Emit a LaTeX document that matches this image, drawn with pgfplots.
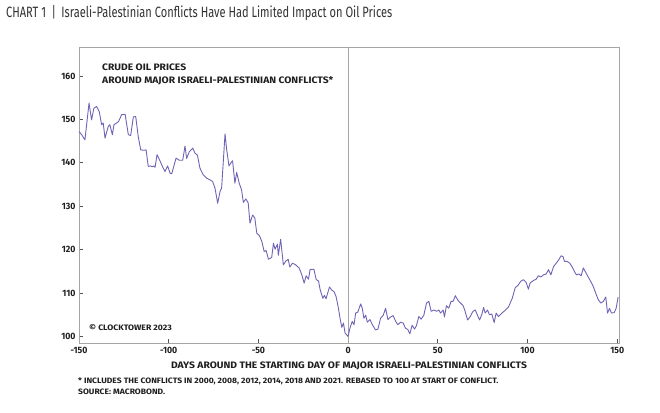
\documentclass[border=0pt]{standalone}
\usepackage{fontspec}
\setmainfont{Fira Sans}
\newfontfamily\titlefont[FakeStretch=0.74]{Fira Sans}
\newfontfamily\tickfont[FakeStretch=0.95]{Fira Sans}
\newfontfamily\bodyfont[FakeStretch=1.1]{Fira Sans}
\usepackage{pgfplots}
\pgfplotsset{compat=1.18}
\definecolor{oil}{RGB}{110,100,180}
\definecolor{framegray}{RGB}{165,165,165}
\definecolor{txt}{RGB}{30,30,30}
\definecolor{titlecol}{RGB}{50,50,50}

\pgfplotstableread{
d v
-150 147.2
-148.5 146.5
-146.7 145.3
-144.4 153.8
-143 149.9
-141.7 152.6
-140.2 153.0
-138.7 151.8
-137.4 148.8
-136.5 149.2
-135.5 145.7
-133.7 148.4
-132.8 148.8
-131.4 146.5
-130.5 148.8
-128 149.5
-126.2 151.1
-124.3 151.2
-122.5 146.5
-121.2 146.3
-119.7 150.6
-118.4 150.7
-117 146.1
-115.6 143.0
-113.7 142.9
-112.6 143.0
-111.4 139.2
-110.1 139.3
-109.2 139.1
-108.3 139.3
-107.6 139.0
-106.5 141.9
-105 140.6
-103.5 139.2
-102.1 138.0
-100.6 139.3
-99.2 137.6
-98.3 137.5
-95.9 141.1
-94.1 140.6
-92.2 140.6
-90.9 143.9
-90 141.0
-88.5 142.6
-86.6 143.4
-85.3 142.2
-84 141.8
-82.6 138.8
-80.8 137.3
-78.9 136.5
-77 136.1
-75.5 135.7
-74.2 134.2
-72.7 130.7
-71.4 133.4
-70.5 134.2
-68.6 146.7
-67.7 143.1
-66.4 139.3
-65.3 140.0
-64.4 140.5
-63.1 135.3
-62.1 137.8
-60.7 135.3
-59.4 133.8
-58.4 130.9
-57 131.7
-55.7 130.8
-54.7 126.1
-53.2 128.0
-52 127.3
-50.9 123.8
-49.4 123.2
-48.1 121.9
-46.8 119.6
-45.7 119.8
-44.4 117.8
-42.6 118.2
-41.6 121.5
-40.7 120.1
-39.4 121.3
-38.9 118.7
-37.6 122.4
-36.1 116.5
-34.7 117.4
-33.4 117.8
-32.5 116.0
-31 116.9
-29.2 116.5
-27.3 115.8
-25.8 114.2
-24.5 112.3
-23.4 114.0
-22.1 113.2
-21.2 115.4
-19.7 115.5
-19 115.4
-17.8 113.1
-16.5 112.8
-15.6 110.8
-14.1 108.8
-13.2 109.5
-12.3 108.7
-10.4 111.4
-9.1 110.7
-7.8 110.3
-6.7 109.2
-5.4 106.5
-4.5 104.2
-3.5 102.1
-2.6 103.1
-1.7 100.8
-0.4 100.2
0 100
1 101.9
2.3 103.5
3.3 102.7
4.2 105.4
5.4 105.6
7 107.5
7.9 106.5
8.8 104.2
9.8 104.9
10.7 103.3
12.2 103.9
13.4 102.8
15.3 101.5
16.6 101.7
18.1 104.2
19.6 104.9
20.9 106.5
22.2 103.9
23.7 104.5
25.1 104.8
26.4 103.6
27.7 102.7
29.2 103.3
30.7 103.1
32 101.9
33.3 101.6
34.4 100.6
35.7 102.6
37 101.7
38.1 102.5
39.4 104.6
40.7 104.0
42.2 104.9
43.7 107.7
45 108.1
46.3 105.8
47.8 106.1
49.3 105.8
50.6 106.1
51.5 105.4
53 106.1
53.7 104.5
54.8 107.1
56.1 106.5
57.4 108.1
58.5 108.1
59.8 109.4
61.1 108.4
62.6 107.7
64.1 107.1
65 106.1
66.6 103.8
68.1 104.6
69.6 105.8
70.9 106.1
72.2 104.8
73.3 103.8
74.6 105.2
75.5 106.7
76.4 105.4
77.7 106.1
78.8 105.0
80.1 105.2
81.4 103.2
82.5 105.4
83.8 104.6
85.7 105.4
87.5 106.0
89.4 106.8
91.5 108.8
93.1 111.2
94.9 111.9
96.2 112.7
97.7 113.1
99.2 112.5
100.5 110.9
101.4 112.3
103.3 112.9
104.8 113.2
106.1 114.0
107.4 113.7
108.9 114.2
110.4 114.4
111.7 115.4
113 114.2
114.5 116.1
116 116.9
117.3 117.6
118.7 118.6
119.8 118.4
120.6 117.3
122.1 117.3
123.5 116.9
124.8 116.1
126.1 115.0
127.3 114.2
128.6 114.4
129.9 114.0
131.1 115.8
132.4 114.8
133.7 113.8
135.2 112.7
136.7 111.5
138 110.0
139.3 108.6
140.8 107.7
142.3 108.1
143.6 109.1
144.6 105.4
145.7 106.5
146.8 105.4
148.3 105.5
149.4 106.5
150.5 109.1
}\oildata

\begin{document}
\begin{tikzpicture}[x=1bp,y=1bp]
\path[use as bounding box] (0,0) rectangle (660,412);
\node[anchor=west, inner sep=0, text=titlecol] at (6,399) {\titlefont\fontsize{15}{18}\selectfont CHART 1 \,|\, Israeli-Palestinian Conflicts Have Had Limited Impact on Oil Prices};
\begin{axis}[
  at={(79bp,69bp)}, anchor=south west,
  scale only axis, width=540bp, height=296bp,
  xmin=-150, xmax=151, ymin=98.5, ymax=166.7,
  axis line style={draw=framegray, line width=0.8bp},
  xtick={-150,-100,...,150}, ytick={100,110,...,160},
  tick align=inside, major tick length=4bp,
  tick style={draw=txt!75, line width=0.8bp},
  xtick pos=bottom, ytick pos=left,
  /pgf/number format/assume math mode=true,
  ticklabel style={font=\tickfont\bfseries\fontsize{9.2}{10}\selectfont, text=txt},
  x tick label style={yshift=-1bp},
  clip=false,
]
\addplot[draw=framegray, line width=0.8bp] coordinates {(0,98.5) (0,166.7)};
\addplot[draw=oil, line width=0.9bp, line join=round] table[x=d,y=v] {\oildata};
\end{axis}
\begin{scope}[every node/.style={inner sep=0, text=txt, font=\bodyfont\bfseries\fontsize{9.4}{11}\selectfont}]
\node[anchor=west] at (102,345) {CRUDE OIL PRICES};
\node[anchor=west] at (102,331) {AROUND MAJOR ISRAELI-PALESTINIAN CONFLICTS*};
\node[anchor=west, font=\bodyfont\bfseries\fontsize{7.9}{9}\selectfont] at (89,84.5) {\textcopyright\ CLOCKTOWER 2023};
\node at (349,46) {DAYS AROUND THE STARTING DAY OF MAJOR ISRAELI-PALESTINIAN CONFLICTS};
\node[anchor=west, font=\bodyfont\bfseries\fontsize{7.8}{9}\selectfont] at (78,30.3) {* INCLUDES THE CONFLICTS IN 2000, 2008, 2012, 2014, 2018 AND 2021. REBASED TO 100 AT START OF CONFLICT.};
\node[anchor=west, font=\bodyfont\bfseries\fontsize{7.8}{9}\selectfont] at (78,20) {SOURCE: MACROBOND.};
\end{scope}
\end{tikzpicture}
\end{document}
